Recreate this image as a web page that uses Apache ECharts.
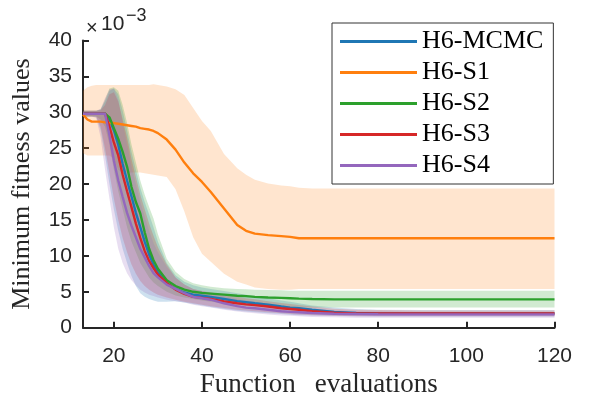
<!DOCTYPE html>
<html>
<head>
<meta charset="utf-8">
<script src="https://cdn.jsdelivr.net/npm/echarts@6/dist/echarts.min.js"></script>
<style>html,body{margin:0;padding:0;background:#fff;}#c{width:590px;height:399px;}</style>
</head>
<body>
<div id="c"></div>
<script>
// Function evaluations (x grid)
const evals = [13,14,15,16,17,18,19,20,21,22,23,24,25,26,27,28,29,30,32,34,36,38,40,42,45,48,50,52,55,58,60,62,65,70,75,80,90,100,110,120];
const seriesNames = ['H6-MCMC','H6-S1','H6-S2','H6-S3','H6-S4'];
const xTicks = [20,40,60,80,100,120];

// mean curves (x 1e-3)
const mcmcMean = [29.8,29.8,29.8,29.8,29.8,29.8,29.0,27.5,25.5,22.8,20.5,18.3,16.0,14.0,12.0,10.2,8.8,7.7,6.2,5.4,4.9,4.6,4.45,4.3,4.0,3.7,3.55,3.4,3.2,2.95,2.8,2.7,2.5,2.2,2.05,2.0,2.0,2.0,2.0,2.0];
const s1Mean   = [29.7,29.0,28.7,28.7,28.7,28.6,28.5,28.5,28.4,28.3,28.2,28.1,28.0,27.8,27.7,27.6,27.4,27.1,26.2,24.8,23.0,21.5,20.3,18.9,16.6,14.3,13.5,13.1,12.9,12.75,12.65,12.45,12.45,12.45,12.45,12.45,12.45,12.45,12.45,12.45];
const s2Mean   = [29.8,29.8,29.8,29.8,29.8,29.8,29.3,27.8,26.3,24.5,22.4,19.6,17.5,15.9,13.3,11.0,9.4,8.2,6.6,5.8,5.3,5.0,4.85,4.75,4.6,4.45,4.4,4.3,4.2,4.15,4.1,4.05,4.0,3.95,3.95,3.95,3.95,3.95,3.95,3.95];
const s3Mean   = [29.8,29.8,29.8,29.8,29.8,29.8,28.0,25.8,24.0,21.3,19.0,16.8,14.5,12.5,10.7,9.3,8.3,7.4,6.2,5.3,4.7,4.3,4.15,4.0,3.65,3.4,3.25,3.15,2.95,2.7,2.6,2.5,2.3,2.1,2.0,2.0,2.0,2.0,2.0,2.0];
const s4Mean   = [29.8,29.8,29.8,29.8,29.8,29.8,26.8,23.3,20.5,18.2,16.0,14.2,12.6,11.0,9.8,8.6,7.6,7.0,6.0,5.4,4.8,4.3,4.1,3.9,3.4,3.0,2.8,2.7,2.5,2.3,2.2,2.15,2.05,1.95,1.9,1.87,1.85,1.85,1.85,1.85];

// shaded ranges (lower / upper, x 1e-3)
const mcmcLo = [29.4,29.4,29.4,29.3,27.5,24.0,20.0,16.5,13.5,11.0,9.0,7.2,5.8,4.8,4.3,4.0,3.8,3.6,3.6,3.7,3.5,3.3,3.1,2.9,2.6,2.35,2.25,2.15,2.0,1.9,1.8,1.75,1.7,1.62,1.58,1.55,1.55,1.55,1.55,1.55];
const mcmcHi = [30.2,30.2,30.2,30.2,30.4,31.5,33.0,33.3,32.5,30.2,27.5,24.5,22.0,19.5,17.5,15.8,14.0,12.0,9.0,7.3,6.4,5.9,5.6,5.4,5.1,4.8,4.6,4.4,4.1,3.8,3.6,3.4,3.1,2.8,2.6,2.5,2.45,2.45,2.45,2.45];
const s1Lo = [24.3,24.0,24.0,24.0,24.0,24.0,24.0,23.5,22.0,21.6,21.6,21.6,21.6,21.6,21.5,21.4,21.3,21.2,21.0,19.3,16.2,12.6,10.3,9.2,7.5,6.4,6.0,5.6,5.4,5.3,5.3,5.4,5.4,5.4,5.4,5.4,5.4,5.4,5.4,5.4];
const s1Hi = [33.0,33.5,33.7,33.8,33.8,33.8,33.8,33.8,33.8,33.8,33.8,33.8,33.8,33.8,33.8,33.8,33.9,33.8,33.6,33.2,32.4,30.6,28.8,27.4,24.2,22.2,21.3,20.6,20.1,19.8,19.7,19.5,19.4,19.4,19.4,19.4,19.4,19.4,19.4,19.4];
const s2Lo = [29.4,29.4,29.4,29.4,29.0,28.0,25.5,22.0,19.0,16.5,14.0,12.0,10.5,9.0,8.0,7.0,6.3,5.8,5.0,4.5,4.2,4.0,3.8,3.6,3.4,3.2,3.1,3.0,2.95,2.9,2.85,2.8,2.8,2.8,2.8,2.8,2.8,2.8,2.8,2.8];
const s2Hi = [30.2,30.2,30.2,30.2,30.4,31.8,33.3,33.5,33.0,31.0,28.5,25.5,23.0,20.5,18.5,16.8,15.2,13.0,9.6,7.8,6.8,6.2,5.9,5.7,5.5,5.4,5.35,5.3,5.25,5.2,5.15,5.15,5.15,5.15,5.15,5.15,5.15,5.15,5.15,5.15];
const s3Lo = [29.4,29.4,29.4,29.4,28.0,25.0,21.5,18.0,15.0,12.5,10.5,8.8,7.5,6.5,5.8,5.3,4.9,4.6,4.2,3.9,3.6,3.4,3.2,3.0,2.75,2.5,2.4,2.3,2.15,2.0,1.9,1.85,1.75,1.65,1.6,1.6,1.6,1.6,1.6,1.6];
const s3Hi = [30.2,30.2,30.2,30.2,30.3,31.0,32.5,32.8,31.5,29.0,26.5,23.5,21.0,18.5,16.5,14.5,12.8,11.2,8.8,7.0,6.0,5.4,5.1,4.9,4.6,4.3,4.1,3.95,3.7,3.45,3.3,3.15,2.95,2.65,2.5,2.45,2.4,2.4,2.4,2.4];
const s4Lo = [29.4,29.4,29.4,29.2,26.5,22.0,18.0,14.0,11.0,9.0,7.6,6.6,5.9,5.3,4.9,4.6,4.4,4.2,3.9,3.7,3.5,3.2,3.0,2.8,2.5,2.25,2.1,2.0,1.85,1.7,1.65,1.6,1.5,1.45,1.4,1.4,1.4,1.4,1.4,1.4];
const s4Hi = [30.2,30.2,30.2,30.2,30.5,32.0,33.2,33.3,31.8,28.5,25.5,22.5,20.0,17.5,15.5,13.5,11.8,10.5,8.5,7.0,6.0,5.4,5.1,4.8,4.4,4.0,3.8,3.6,3.35,3.1,2.95,2.8,2.6,2.4,2.3,2.25,2.2,2.2,2.2,2.2];

const colors = ['#1f77b4','#ff7f0e','#2ca02c','#d62728','#9467bd'];
const bandFill = ['rgba(31,119,180,0.22)','rgba(255,127,14,0.2)','rgba(44,160,44,0.22)','rgba(214,39,40,0.22)','rgba(148,103,189,0.22)'];
const means = [mcmcMean, s1Mean, s2Mean, s3Mean, s4Mean];
const los = [mcmcLo, s1Lo, s2Lo, s3Lo, s4Lo];
const his = [mcmcHi, s1Hi, s2Hi, s3Hi, s4Hi];

const zip = (arr) => evals.map((x, i) => [x, arr[i]]);
const series = [];
const bandOrder = [1, 0, 2, 3, 4];
bandOrder.forEach(k => {
  const lo = los[k], hi = his[k];
  series.push({
    name: 'band' + k, type: 'custom', silent: true, z: 1,
    data: evals.map((x, i) => [x, lo[i], hi[i]]),
    encode: { x: 0, y: [1, 2] },
    renderItem: function (params, api) {
      if (params.dataIndex !== 0) return null;
      const pts = [];
      for (let i = 0; i < evals.length; i++) pts.push(api.coord([evals[i], hi[i]]));
      for (let i = evals.length - 1; i >= 0; i--) pts.push(api.coord([evals[i], lo[i]]));
      return { type: 'polygon', shape: { points: pts }, style: { fill: bandFill[k], stroke: null } };
    }
  });
});
[0, 1, 2, 3, 4].forEach(k => {
  series.push({
    name: seriesNames[k], type: 'line', data: zip(means[k]), symbol: 'none',
    lineStyle: { color: colors[k], width: 2.4 }, itemStyle: { color: colors[k] }, z: 3
  });
});

const axisColor = '#262626';
const chart = echarts.init(document.getElementById('c'));
chart.setOption({
  animation: false,
  backgroundColor: '#fff',
  grid: { left: 83, right: 35.5, top: 40.5, bottom: 71.3, outerBoundsMode: 'none' },
  xAxis: {
    type: 'value', min: 13, max: 120,
    name: 'Function  \u2009evaluations', nameLocation: 'middle', nameGap: 44,
    nameTextStyle: { fontFamily: 'Liberation Serif', fontSize: 27, color: '#262626' },
    axisLine: { show: true, lineStyle: { color: axisColor, width: 2 } },
    axisTick: { show: true, inside: true, length: 6, customValues: xTicks, lineStyle: { color: axisColor, width: 2 } },
    axisLabel: { customValues: xTicks, fontFamily: 'Liberation Sans', fontSize: 21, color: axisColor, margin: 18 },
    splitLine: { show: false }
  },
  yAxis: {
    type: 'value', min: 0, max: 40, interval: 5,
    name: 'Minimum fitness values', nameLocation: 'middle', nameGap: 48,
    nameTextStyle: { fontFamily: 'Liberation Serif', fontSize: 26, color: '#262626' },
    axisLine: { show: true, lineStyle: { color: axisColor, width: 2 } },
    axisTick: { show: true, inside: true, length: 6, lineStyle: { color: axisColor, width: 2 } },
    axisLabel: { fontFamily: 'Liberation Sans', fontSize: 21, color: axisColor, margin: 11 },
    splitLine: { show: false }
  },
  legend: {
    data: seriesNames, orient: 'vertical', left: 332, top: 23,
    icon: 'rect', itemWidth: 77, itemHeight: 3, itemGap: 0,
    padding: [3, 10, 3, 8],
    backgroundColor: '#fff', borderColor: '#333', borderWidth: 1,
    textStyle: { fontFamily: 'Liberation Serif', fontSize: 26, lineHeight: 31, color: '#000' }
  },
  graphic: [
    { type: 'text', left: 86, top: 18, style: { text: '×', fontFamily: 'Liberation Sans', fontSize: 20, fill: axisColor } },
    { type: 'text', left: 101, top: 14, style: { text: '10', fontFamily: 'Liberation Sans', fontSize: 21, fill: axisColor } },
    { type: 'text', left: 126, top: 7, style: { text: '−3', fontFamily: 'Liberation Sans', fontSize: 18, fill: axisColor } }
  ],
  series: series
});
</script>
</body>
</html>
